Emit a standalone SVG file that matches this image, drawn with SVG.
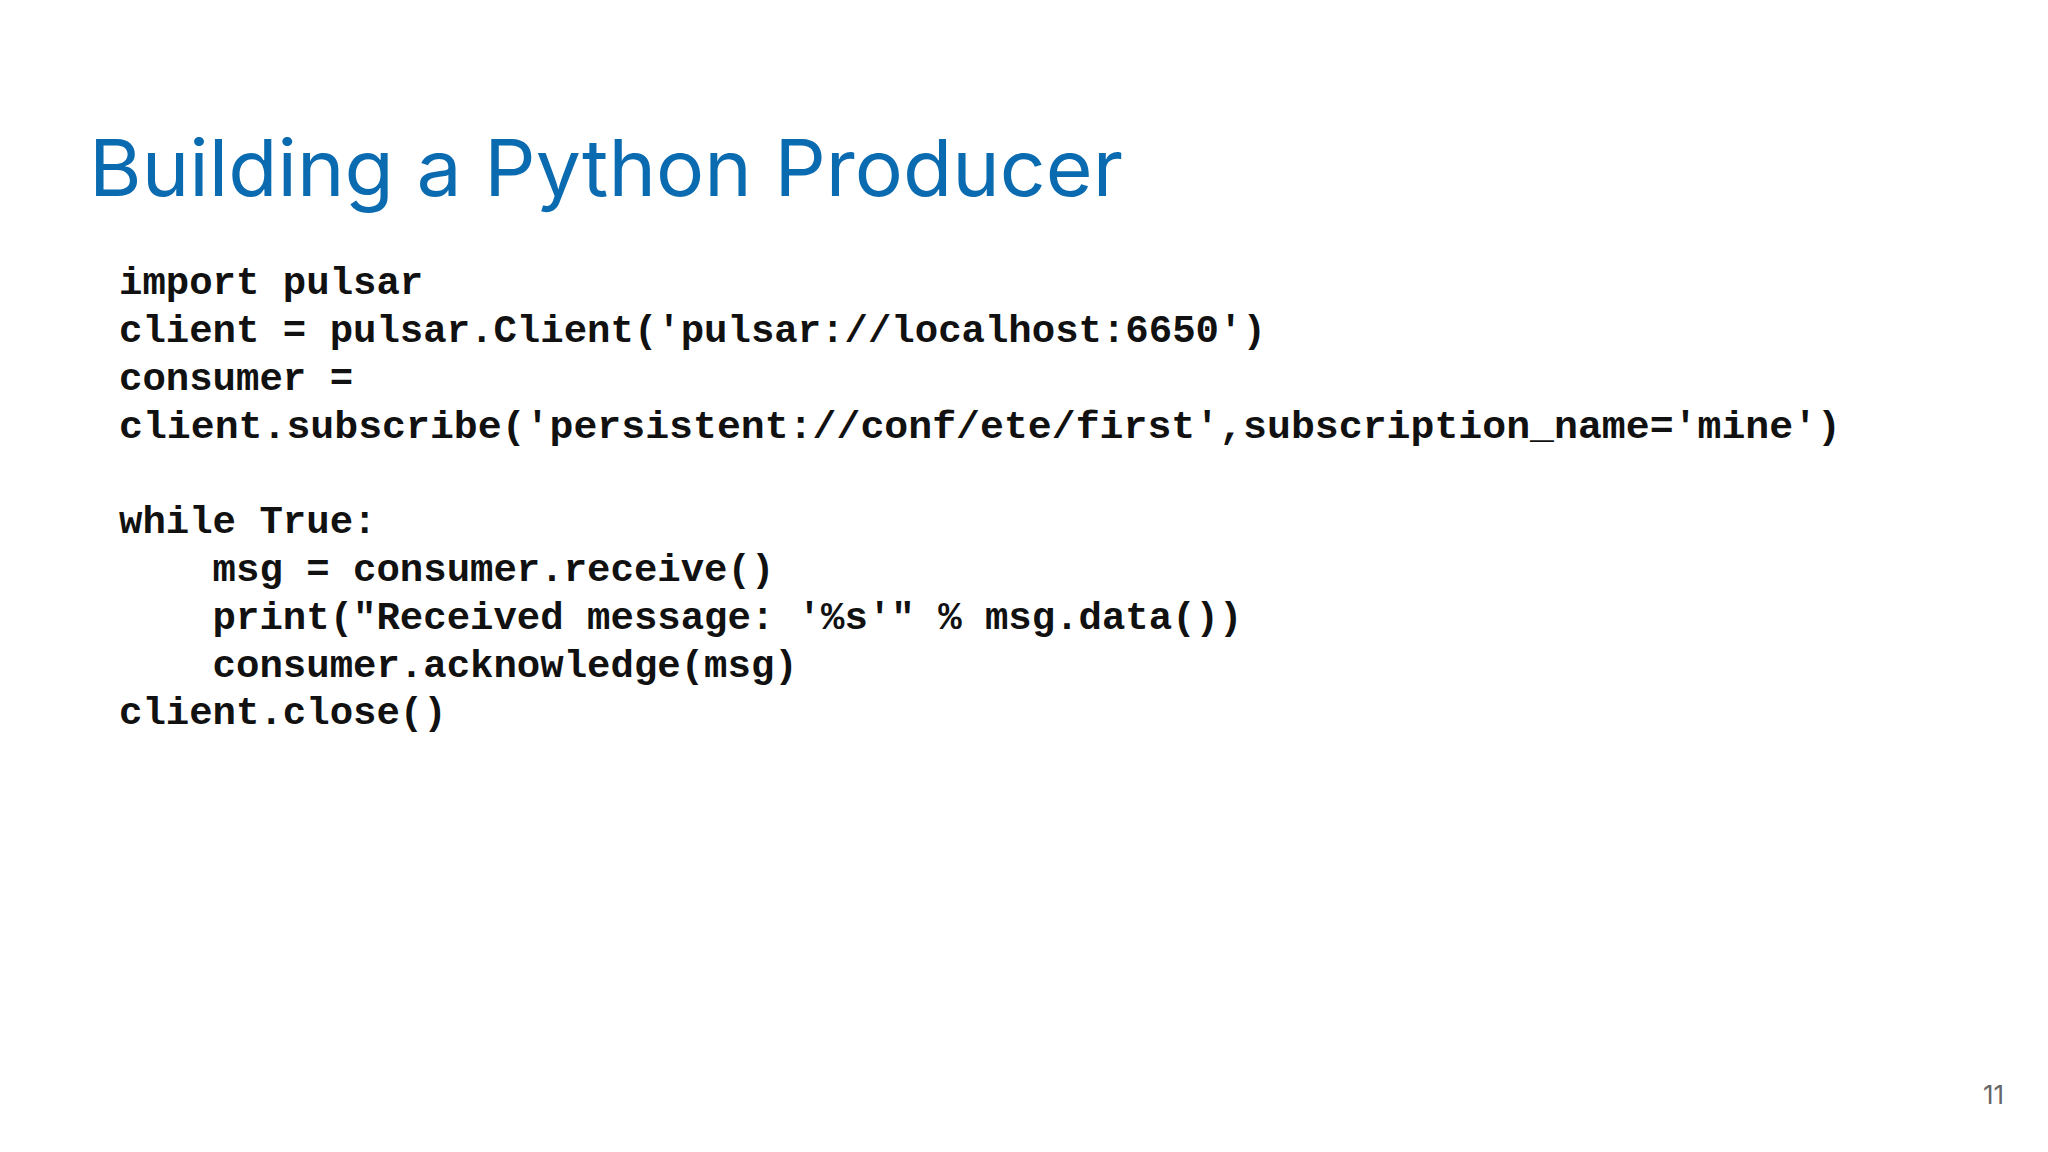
<svg xmlns="http://www.w3.org/2000/svg" width="2048" height="1152" viewBox="0 0 2048 1152">
<style>
.code{font-family:"Liberation Mono","Courier New",monospace;font-weight:bold;font-size:39px;fill:#111;white-space:pre}
</style>
<rect width="2048" height="1152" fill="#fff"/>
<g id="title"><text x="89" y="196" font-family="Inter,'Liberation Sans',sans-serif" font-size="78" fill="#0b6bb0" textLength="1034" lengthAdjust="spacingAndGlyphs">Building a Python Producer</text></g>
<g id="code" class="code">
<text class="code" x="119" y="294">import pulsar</text>
<text class="code" x="119" y="342">client = pulsar.Client('pulsar://localhost:6650')</text>
<text class="code" x="119" y="390">consumer =</text>
<text class="code" x="119" y="438" textLength="1722" lengthAdjust="spacingAndGlyphs">client.subscribe('persistent://conf/ete/first',subscription_name='mine')</text>
<text class="code" x="119" y="533">while True:</text>
<text class="code" x="119" y="581">    msg = consumer.receive()</text>
<text class="code" x="119" y="629">    print("Received message: '%s'" % msg.data())</text>
<text class="code" x="119" y="677">    consumer.acknowledge(msg)</text>
<text class="code" x="119" y="724">client.close()</text>
</g>
<g id="page"><text x="1983" y="1104" font-family="Inter,'Liberation Sans',sans-serif" font-size="26" fill="#666">11</text></g>
</svg>
